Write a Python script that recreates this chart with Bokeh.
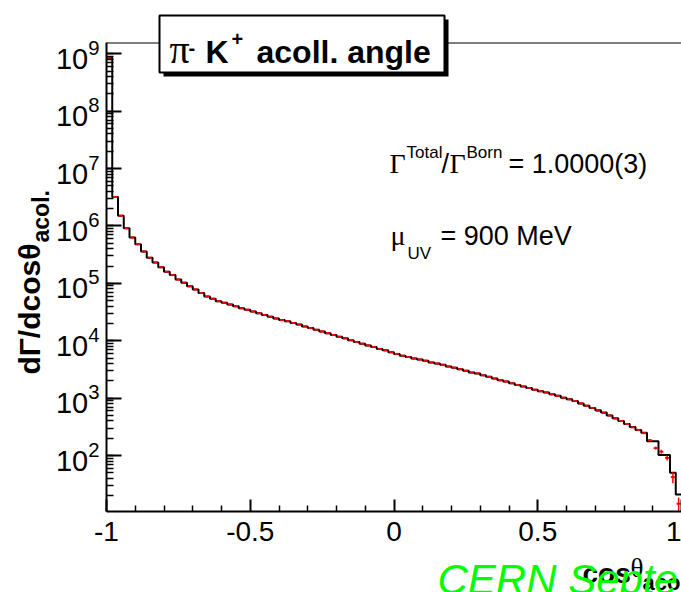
import numpy as np
from bokeh.plotting import figure
from bokeh.models import Range1d, FixedTicker, LogTicker, Span, LinearScale
from bokeh.core.properties import value
from bokeh.embed import file_html
from bokeh.resources import INLINE

# ---------------- data ----------------
x_limits = (-1.0, 1.0)
y_limits = (10.6, 1.57e9)
x_ticks = [-1, -0.5, 0, 0.5, 1]
x_tick_labels = ["-1", "-0.5", "0", "0.5", "1"]
x_minor_ticks = [-0.9, -0.8, -0.7, -0.6, -0.4, -0.3, -0.2, -0.1,
                 0.1, 0.2, 0.3, 0.4, 0.6, 0.7, 0.8, 0.9]
n_bins = 100

hist_black = [
    8.5e8, 3.2e6, 1.5e6, 9.1e5, 6.3e5, 4.8e5, 3.6e5, 2.8e5, 2.3e5, 1.9e5,
    1.6e5, 1.4e5, 1.17e5, 1.02e5, 8.9e4, 7.8e4, 6.8e4, 5.9e4, 5.4e4, 4.9e4,
    4.6e4, 4.3e4, 4.0e4, 3.7e4, 3.47e4, 3.24e4, 3.02e4, 2.82e4, 2.63e4, 2.45e4,
    2.29e4, 2.19e4, 2.04e4, 1.91e4, 1.78e4, 1.66e4, 1.55e4, 1.45e4, 1.35e4, 1.26e4,
    1.17e4, 1.10e4, 1.02e4, 9.5e3, 8.9e3, 8.3e3, 7.8e3, 7.2e3, 6.8e3, 6.3e3,
    5.9e3, 5.5e3, 5.2e3, 4.9e3, 4.7e3, 4.5e3, 4.2e3, 4.0e3, 3.8e3, 3.55e3,
    3.4e3, 3.2e3, 3.0e3, 2.8e3, 2.7e3, 2.5e3, 2.35e3, 2.2e3, 2.05e3, 1.95e3,
    1.82e3, 1.7e3, 1.6e3, 1.5e3, 1.4e3, 1.32e3, 1.26e3, 1.17e3, 1.1e3, 1.02e3,
    955, 890, 810, 740, 675, 615, 560, 500, 445, 400,
    355, 315, 280, 250, 178, 178, 102, 102, 50, 21,
]

points_red = [
    8.5e8, 3.2e6, 1.5e6, 9.1e5, 6.3e5, 4.8e5, 3.6e5, 2.8e5, 2.3e5, 1.9e5,
    1.6e5, 1.4e5, 1.17e5, 1.02e5, 8.9e4, 7.8e4, 6.8e4, 5.9e4, 5.4e4, 4.9e4,
    4.6e4, 4.3e4, 4.0e4, 3.7e4, 3.47e4, 3.24e4, 3.02e4, 2.82e4, 2.63e4, 2.45e4,
    2.29e4, 2.19e4, 2.04e4, 1.91e4, 1.78e4, 1.66e4, 1.55e4, 1.45e4, 1.35e4, 1.26e4,
    1.17e4, 1.10e4, 1.02e4, 9.5e3, 8.9e3, 8.3e3, 7.8e3, 7.2e3, 6.8e3, 6.3e3,
    5.9e3, 5.5e3, 5.2e3, 4.9e3, 4.7e3, 4.5e3, 4.2e3, 4.0e3, 3.8e3, 3.55e3,
    3.4e3, 3.2e3, 3.0e3, 2.8e3, 2.7e3, 2.5e3, 2.35e3, 2.2e3, 2.05e3, 1.95e3,
    1.82e3, 1.7e3, 1.6e3, 1.5e3, 1.4e3, 1.32e3, 1.26e3, 1.17e3, 1.1e3, 1.02e3,
    955, 890, 810, 740, 675, 600, 550, 500, 440, 400,
    355, 310, 280, 245, 185, 135, 117, 91, 42, 14.5,
]

err_red = [0.0] * 90 + [6, 6, 6, 7, 8, 8, 9, 9, 9, 4]

W, H = 681, 592
FRAME_L, FRAME_T, FRAME_B = 106, 42, 511
FONT = "Liberation Sans"
SERIF = "Liberation Serif"

# ---------------- figure ----------------
p = figure(width=W, height=H, output_backend="svg", toolbar_location=None,
           x_range=Range1d(*x_limits), y_range=Range1d(*y_limits),
           y_axis_type="log",
           min_border_left=FRAME_L, min_border_right=0, min_border_top=FRAME_T,
           min_border_bottom=H - FRAME_B)
p.outline_line_color = None
p.grid.visible = False
p.background_fill_color = "white"
p.border_fill_color = "white"

xa = p.xaxis[0]
xa.ticker = FixedTicker(ticks=x_ticks, minor_ticks=x_minor_ticks)
xa.major_label_overrides = dict(zip(x_ticks, x_tick_labels))
ya = p.yaxis[0]
ya.ticker = LogTicker(num_minor_ticks=10)

for ax in (xa, ya):
    ax.axis_line_width = 2
    ax.axis_line_color = "black"
    ax.major_tick_out = 0
    ax.minor_tick_out = 0
    ax.major_tick_line_width = 2
    ax.minor_tick_line_width = 1.5
    ax.major_tick_line_color = "black"
    ax.minor_tick_line_color = "black"
    ax.major_label_text_font = FONT
    ax.major_label_text_color = "black"
xa.major_label_text_font_size = "28px"
ya.major_label_text_font_size = "29px"
xa.major_tick_in = 12
xa.minor_tick_in = 6
xa.major_label_standoff = 10
ya.major_tick_in = 15
ya.minor_tick_in = 7
ya.major_label_standoff = 7

# top frame line
p.add_layout(Span(location=y_limits[1], dimension="width", line_color="black", line_width=2))

edges = np.linspace(x_limits[0], x_limits[1], n_bins + 1)
centers = 0.5 * (edges[:-1] + edges[1:])
half = 0.35 * (edges[1] - edges[0])
p.step(x=list(edges), y=hist_black + [hist_black[-1]], mode="after",
       line_color="black", line_width=2)

red = np.array(points_red, dtype=float)
err = np.array(err_red, dtype=float)
p.segment(x0=centers - half, x1=centers + half, y0=red, y1=red,
          line_color="red", line_width=2)
p.segment(x0=centers, x1=centers, y0=red - err, y1=red + err,
          line_color="red", line_width=1.5)

# ---------------- pixel coordinate system for decorations ----------------
p.extra_x_ranges = {"px": Range1d(FRAME_L, W)}
p.extra_y_ranges = {"px": Range1d(FRAME_B, FRAME_T)}
p.extra_x_scales = {"px": LinearScale()}
p.extra_y_scales = {"px": LinearScale()}


def txt(s, x, y, size, style="normal", font=FONT, color="black", angle=0.0):
    p.text(x=[x], y=[y], text=[s], text_font=value(font),
           text_font_size=f"{size}px", text_font_style=style,
           text_color=color, text_align="left", text_baseline="middle",
           angle=angle, x_range_name="px", y_range_name="px", level="overlay")


# title box with shadow
p.quad(left=[163], right=[448], top=[19], bottom=[76],
       fill_color="black", line_color=None,
       x_range_name="px", y_range_name="px", level="overlay")
p.quad(left=[159], right=[444], top=[15], bottom=[72],
       fill_color="white", line_color="black", line_width=2,
       x_range_name="px", y_range_name="px", level="overlay")
txt("\u03c0", 169, 49, 40, font=SERIF)
txt("-", 188, 47, 20, style="bold")
txt("K", 205, 51, 32, style="bold")
txt("+", 231, 38, 20, style="bold")
txt("acoll. angle", 256, 51, 32, style="bold")

# text annotations
txt("\u0393", 389, 163, 28, font=SERIF)
txt("Total", 406, 152, 17)
txt("/", 441, 163, 27)
txt("\u0393", 449, 163, 28, font=SERIF)
txt("Born", 466, 152, 17)
txt("= 1.0000(3)", 508, 163, 27)

txt("\u03bc", 390, 235, 28, font=SERIF)
txt("UV", 407, 253, 17)
txt("= 900 MeV", 440, 235, 27)

# y axis title
txt("d\u0393/dcos\u03b8", 29, 374, 30, style="bold", angle=np.pi / 2)
txt("acol.", 40, 242, 23, style="bold", angle=np.pi / 2)

# x axis title
txt("cos", 582, 573, 28, style="bold")
txt("\u03b8", 630, 567, 27, font=SERIF)
txt("acol.", 642, 582, 22, style="bold")

# watermark
txt("CERN Septe", 437, 579, 42, style="italic", color="#00ff00")

open("out.html", "w").write(file_html(p, INLINE))
